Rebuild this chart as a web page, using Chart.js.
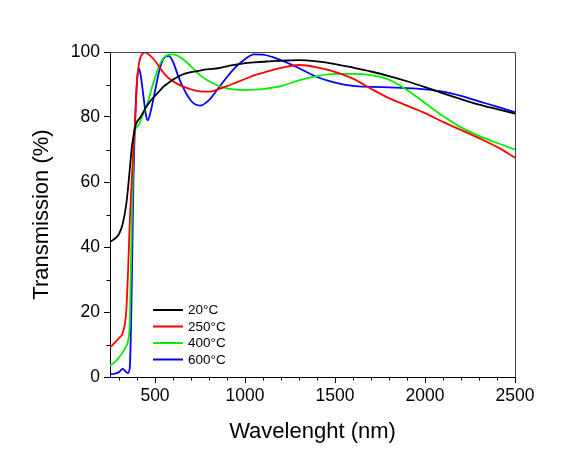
<!DOCTYPE html>
<html>
<head>
<meta charset="utf-8">
<script src="https://cdn.jsdelivr.net/npm/chart.js@4.4.0/dist/chart.umd.min.js"></script>
<style>
  html, body { margin: 0; padding: 0; background: #fff; }
</style>
</head>
<body>
<canvas id="c" width="587" height="450"></canvas>
<script>
// Wavelength (nm), shared by all series
const wavelength = [250, 275, 300, 320, 340, 350, 360, 370, 380, 390, 400, 410, 420, 430, 440, 450, 460, 475, 500,
  525, 550, 575, 600, 625, 650, 700, 750, 800, 850, 900, 950, 1000, 1050, 1100, 1150, 1200,
  1300, 1400, 1500, 1600, 1700, 1800, 1900, 2000, 2100, 2200, 2300, 2400, 2500];

// Transmission (%) per annealing temperature
const t20 = [41.5, 42.5, 44, 47, 53, 58, 64, 70, 74, 77, 78.5, 79.3, 80, 81, 82, 83, 83.8, 85, 86.5,
  88, 89.5, 90.5, 91.5, 92.3, 93, 93.8, 94.3, 94.7, 95, 95.6, 96.1, 96.6, 96.8, 97, 97.2, 97.3,
  97.5, 97.1, 96.3, 95.2, 94, 92.6, 91, 89.2, 87.3, 85.5, 83.8, 82.4, 81];
const t250 = [9, 10.5, 12, 13.5, 20, 32, 48, 60, 70, 79, 91, 96, 98.5, 99.4, 99.8, 99.8, 99.4, 98.8, 97.3,
  95.3, 93.4, 92, 91, 90.2, 89.5, 88.5, 87.9, 87.8, 88.5, 89.5, 90.6, 91.7, 92.8, 93.6, 94.4, 95.1,
  96, 95.3, 93.9, 91.8, 88.7, 85.8, 83.5, 81.2, 78.5, 76, 73.5, 70.8, 67.5];
const t400 = [3.5, 4.5, 6, 7.5, 9.5, 11, 17, 45, 70, 76, 77, 77.5, 79, 80.5, 81.5, 83, 84.5, 87.5, 92,
  96, 98.3, 99.2, 99.3, 98.9, 98, 95.6, 92.9, 91, 89.7, 88.8, 88.4, 88.3, 88.4, 88.6, 89, 89.5,
  91.3, 92.6, 93.3, 93.3, 92.9, 91.5, 88.3, 84.3, 80.3, 76.8, 74.2, 72, 70];
const t600 = [0.8, 1, 1.5, 2.5, 1.5, 1.2, 3, 25, 60, 80, 91, 95, 93, 89, 84.5, 80.5, 79, 81.5, 88,
  94.5, 98.2, 98.8, 97, 93.2, 89.8, 85, 83.5, 85.2, 88.7, 92.3, 95.5, 97.8, 99.3, 99.2, 98.5, 97.5,
  95, 92.3, 90.6, 89.6, 89.3, 89.1, 88.9, 88.5, 87.8, 86.5, 84.8, 83.2, 81.5];

const labels = ['20°C', '250°C', '400°C', '600°C'];
const colors = ['#000000', '#ff0000', '#00ee00', '#0000ff'];
const series = [t20, t250, t400, t600];

const xMajor = [500, 1000, 1500, 2000, 2500];
const yMajor = [0, 20, 40, 60, 80, 100];

const FONT = "'Liberation Sans', Arial, sans-serif";

const datasets = series.map((vals, i) => ({
  label: labels[i],
  data: wavelength.map((w, j) => ({ x: w, y: vals[j] })),
  borderColor: colors[i],
  borderWidth: 1.8,
  pointRadius: 0,
  fill: false,
  cubicInterpolationMode: 'monotone'
}));

// minor ticks, top/right frame and the inset legend
const extras = {
  id: 'extras',
  afterDraw(chart) {
    const { ctx, chartArea: a, scales: { x, y } } = chart;
    ctx.save();
    ctx.strokeStyle = '#000';
    ctx.lineWidth = 1;
    ctx.beginPath();
    for (let v = 300; v < 2500; v += 100) {
      if (v % 500 === 0) continue;
      const px = Math.round(x.getPixelForValue(v)) + 0.5;
      ctx.moveTo(px, a.bottom);
      ctx.lineTo(px, a.bottom + 3.5);
    }
    for (let v = 10; v < 100; v += 20) {
      const py = Math.round(y.getPixelForValue(v)) + 0.5;
      ctx.moveTo(a.left, py);
      ctx.lineTo(a.left - 3.5, py);
    }
    ctx.stroke();

    ctx.strokeStyle = '#444';
    ctx.beginPath();
    ctx.moveTo(a.left, a.top + 0.5);
    ctx.lineTo(a.right + 0.5, a.top + 0.5);
    ctx.lineTo(a.right + 0.5, a.bottom);
    ctx.stroke();

    // legend
    ctx.font = '13.5px ' + FONT;
    ctx.textBaseline = 'middle';
    ctx.fillStyle = '#000';
    chart.data.datasets.forEach((ds, i) => {
      const ly = 310 + i * 16.5;
      ctx.strokeStyle = ds.borderColor;
      ctx.lineWidth = 2;
      ctx.beginPath();
      ctx.moveTo(153, ly);
      ctx.lineTo(183, ly);
      ctx.stroke();
      ctx.fillText(ds.label, 188, ly + 0.5);
    });
    ctx.restore();
  }
};

new Chart(document.getElementById('c'), {
  type: 'line',
  data: { datasets },
  options: {
    responsive: false,
    animation: false,
    layout: { padding: { top: 52, right: 72, left: 0, bottom: 0 } },
    plugins: { legend: { display: false }, tooltip: { enabled: false } },
    scales: {
      x: {
        type: 'linear',
        min: 250,
        max: 2500,
        afterBuildTicks: (s) => { s.ticks = xMajor.map(v => ({ value: v })); },
        afterFit: (s) => { s.height = 73; },
        ticks: { font: { family: FONT, size: 17.5 }, color: '#000', padding: 3, maxRotation: 0, callback: (v) => String(v) },
        grid: { display: true, drawOnChartArea: false, drawTicks: true, tickLength: 6, color: '#000' },
        border: { color: '#000', width: 1 },
        title: { display: true, text: 'Wavelenght (nm)', color: '#000', font: { family: FONT, size: 22 }, padding: { top: 0, bottom: 5 } }
      },
      y: {
        min: 0,
        max: 100,
        afterBuildTicks: (s) => { s.ticks = yMajor.map(v => ({ value: v })); },
        afterFit: (s) => { s.width = 110; },
        ticks: { font: { family: FONT, size: 17.5 }, color: '#000', padding: 4, callback: (v) => String(v) },
        grid: { display: true, drawOnChartArea: false, drawTicks: true, tickLength: 6, color: '#000' },
        border: { color: '#000', width: 1 },
        title: { display: true, text: 'Transmission (%)', color: '#000', font: { family: FONT, size: 22 }, padding: { top: 29, bottom: 0 } }
      }
    }
  },
  plugins: [extras]
});
</script>
</body>
</html>
